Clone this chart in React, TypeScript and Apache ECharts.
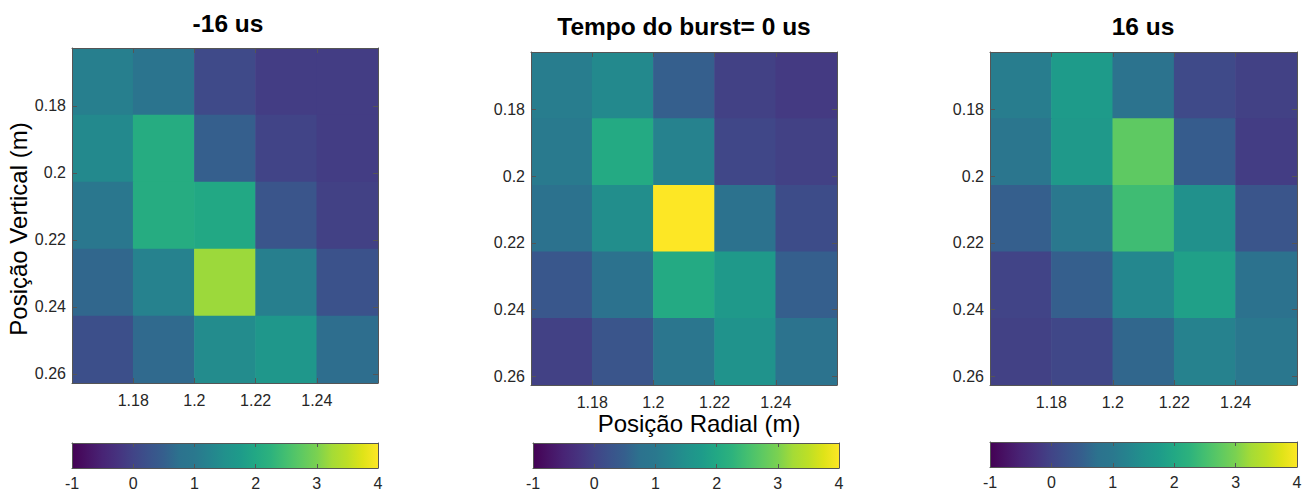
import React, { useEffect, useRef } from "react";
import * as echarts from "echarts";

// ---- data ----
const xCenters = [1.17, 1.19, 1.21, 1.23, 1.25];
const yCenters = [0.1727, 0.1927, 0.2127, 0.2327, 0.2527];
const xTicks = [1.18, 1.2, 1.22, 1.24];
const yTicks = [0.18, 0.2, 0.22, 0.24, 0.26];
const cbTicks = [-1, 0, 1, 2, 3, 4];
const cbRange = [-1, 4];
const titles = ["-16 us", "Tempo do burst= 0 us", "16 us"];

// rows: top (y=0.1727) to bottom; columns: x from 1.17 to 1.25
const valsMinus16 = [
  [1.15, 0.85, 0.1, -0.1, -0.1],
  [1.35, 2.1, 0.5, 0.0, -0.1],
  [0.95, 2.1, 2.0, 0.3, -0.05],
  [0.6, 1.2, 3.2, 1.15, 0.25],
  [0.2, 0.65, 1.4, 1.65, 0.7],
];
const vals0 = [
  [1.1, 1.35, 0.5, -0.05, -0.15],
  [1.05, 2.05, 1.2, 0.05, -0.05],
  [0.75, 1.45, 4.0, 0.75, 0.15],
  [0.35, 0.75, 2.05, 1.7, 0.5],
  [-0.05, 0.3, 0.9, 1.55, 0.8],
];
const vals16 = [
  [1.1, 1.75, 0.8, 0.1, -0.05],
  [0.9, 1.7, 2.75, 0.45, -0.1],
  [0.5, 1.0, 2.45, 1.5, 0.3],
  [0.0, 0.5, 1.3, 1.85, 0.75],
  [-0.05, 0.05, 0.6, 1.2, 0.95],
];
const panels = [valsMinus16, vals0, vals16];

const viridis = [
  "#440154", "#471365", "#482475", "#46337f", "#414487", "#3b528b",
  "#355f8d", "#2c728e", "#2a788e", "#25848e", "#21918c", "#1e9b8a",
  "#22a884", "#2db27d", "#44bf70", "#5ec962", "#7ad151", "#a5db36",
  "#bddf26", "#dfe318", "#fde725",
];

// ---- layout ----
const FONT = "Liberation Sans, Arial, Helvetica, sans-serif";
const plotGrids = [
  { left: 72, top: 48, width: 306, height: 335 },
  { left: 531, top: 52, width: 306, height: 333 },
  { left: 990, top: 52, width: 307, height: 333 },
];
const cbGrids = [
  { left: 72, top: 443, width: 306, height: 25 },
  { left: 533, top: 443, width: 306, height: 25 },
  { left: 990, top: 442, width: 307, height: 25 },
];
const titlePos = [
  [228, 23],
  [684, 26],
  [1143, 26],
];

const LINE = "#555";
const TXT = "#262626";

function buildOption() {
  const grid: any[] = [];
  plotGrids.forEach((g) => grid.push({ ...g, outerBoundsMode: "none", containLabel: false }));
  cbGrids.forEach((g) => grid.push({ ...g, outerBoundsMode: "none", containLabel: false }));

  const fmt2 = (v: number) => String(parseFloat(Number(v).toFixed(2)));
  const xAxis: any[] = [];
  const yAxis: any[] = [];
  const xmin = xCenters[0] - 0.01;
  const xmax = xCenters[xCenters.length - 1] + 0.01;
  const ymin = yCenters[0] - 0.01;
  const ymax = yCenters[yCenters.length - 1] + 0.01;

  const lineStyle = { color: LINE, width: 1 };
  for (let i = 0; i < 3; i++) {
    xAxis.push({
      type: "value", gridIndex: i, min: xmin, max: xmax, position: "bottom", z: 5,
      axisLine: { show: true, onZero: false, lineStyle },
      axisTick: { show: true, inside: true, length: 5, lineStyle, customValues: xTicks },
      axisLabel: { show: true, customValues: xTicks, formatter: fmt2, color: TXT, fontSize: 16, fontFamily: FONT, margin: 9 },
      splitLine: { show: false },
    });
    yAxis.push({
      type: "value", gridIndex: i, min: ymin, max: ymax, inverse: true, position: "left", z: 5,
      axisLine: { show: true, onZero: false, lineStyle },
      axisTick: { show: true, inside: true, length: 5, lineStyle, customValues: yTicks },
      axisLabel: { show: true, customValues: yTicks, formatter: fmt2, color: TXT, fontSize: 16, fontFamily: FONT, margin: 6 },
      splitLine: { show: false },
    });
  }
  for (let i = 0; i < 3; i++) {
    xAxis.push({
      type: "value", gridIndex: i, min: xmin, max: xmax, position: "top", z: 5,
      axisLine: { show: true, onZero: false, lineStyle },
      axisTick: { show: true, inside: true, length: 5, lineStyle, customValues: xTicks },
      axisLabel: { show: false },
      splitLine: { show: false },
    });
    yAxis.push({
      type: "value", gridIndex: i, min: ymin, max: ymax, inverse: true, position: "right", z: 5,
      axisLine: { show: true, onZero: false, lineStyle },
      axisTick: { show: true, inside: true, length: 5, lineStyle, customValues: yTicks },
      axisLabel: { show: false },
      splitLine: { show: false },
    });
  }
  for (let i = 0; i < 3; i++) {
    xAxis.push({
      type: "value", gridIndex: 3 + i, min: cbRange[0], max: cbRange[1], interval: 1, position: "bottom", z: 5,
      axisLine: { show: true, onZero: false, lineStyle },
      axisTick: { show: true, inside: true, length: 4, lineStyle, customValues: cbTicks },
      axisLabel: { show: true, customValues: cbTicks, color: TXT, fontSize: 16, fontFamily: FONT, margin: 7 },
      splitLine: { show: false },
    });
    yAxis.push({
      type: "value", gridIndex: 3 + i, min: 0, max: 1, position: "left", z: 5,
      axisLine: { show: true, onZero: false, lineStyle },
      axisTick: { show: false }, axisLabel: { show: false }, splitLine: { show: false },
    });
  }
  for (let i = 0; i < 3; i++) {
    xAxis.push({
      type: "value", gridIndex: 3 + i, min: cbRange[0], max: cbRange[1], interval: 1, position: "top", z: 5,
      axisLine: { show: true, onZero: false, lineStyle },
      axisTick: { show: true, inside: true, length: 4, lineStyle, customValues: cbTicks },
      axisLabel: { show: false }, splitLine: { show: false },
    });
    yAxis.push({
      type: "value", gridIndex: 3 + i, min: 0, max: 1, position: "right", z: 5,
      axisLine: { show: true, onZero: false, lineStyle },
      axisTick: { show: false }, axisLabel: { show: false }, splitLine: { show: false },
    });
  }

  const series: any[] = [];
  panels.forEach((vals, i) => {
    const data: number[][] = [];
    vals.forEach((row, r) => row.forEach((v, c) => data.push([xCenters[c], yCenters[r], v])));
    series.push({
      type: "custom", xAxisIndex: i, yAxisIndex: i, z: 1, clip: true,
      encode: { x: 0, y: 1 },
      data,
      renderItem: (params: any, api: any) => {
        const x = api.value(0), y = api.value(1);
        const p0 = api.coord([x - 0.01, y - 0.01]);
        const p1 = api.coord([x + 0.01, y + 0.01]);
        const x0 = Math.min(p0[0], p1[0]), y0 = Math.min(p0[1], p1[1]);
        return {
          type: "rect",
          shape: { x: x0 - 0.3, y: y0 - 0.3, width: Math.abs(p1[0] - p0[0]) + 0.6, height: Math.abs(p1[1] - p0[1]) + 0.6 },
          style: { fill: api.visual("color"), stroke: null },
        };
      },
    });
  });
  const stops = viridis.map((c, k) => ({ offset: k / (viridis.length - 1), color: c }));
  for (let i = 0; i < 3; i++) {
    series.push({
      type: "custom", xAxisIndex: 6 + i, yAxisIndex: 6 + i, z: 1,
      data: [[cbRange[0], cbRange[1]]],
      encode: { x: [0, 1] },
      renderItem: (params: any, api: any) => {
        const p0 = api.coord([api.value(0), 1]);
        const p1 = api.coord([api.value(1), 0]);
        return {
          type: "rect",
          shape: { x: p0[0], y: p0[1], width: p1[0] - p0[0], height: p1[1] - p0[1] },
          style: { fill: new echarts.graphic.LinearGradient(0, 0, 1, 0, stops) },
        };
      },
    });
  }

  const graphic: any[] = [];
  titles.forEach((t, i) => {
    graphic.push({
      type: "text", x: titlePos[i][0], y: titlePos[i][1], z: 10,
      style: { text: t, align: "center", verticalAlign: "middle", fill: "#000", font: `bold 24.5px ${FONT}` },
    });
  });
  graphic.push({
    type: "text", x: 699, y: 423, z: 10,
    style: { text: "Posição Radial (m)", align: "center", verticalAlign: "middle", fill: "#000", font: `24px ${FONT}` },
  });
  graphic.push({
    type: "text", x: 18, y: 229, rotation: Math.PI / 2, z: 10,
    style: { text: "Posição Vertical (m)", align: "center", verticalAlign: "middle", fill: "#000", font: `24px ${FONT}` },
  });

  return {
    animation: false,
    backgroundColor: "#ffffff",
    grid, xAxis, yAxis, series, graphic,
    visualMap: [
      {
        type: "continuous", show: false, min: cbRange[0], max: cbRange[1], dimension: 2,
        seriesIndex: [0, 1, 2], inRange: { color: viridis },
      },
    ],
  };
}

export default function App() {
  const ref = useRef<HTMLDivElement>(null);
  useEffect(() => {
    if (!ref.current) return;
    const chart = echarts.init(ref.current, null, { renderer: "svg" });
    chart.setOption(buildOption() as any);
    return () => chart.dispose();
  }, []);
  return (
    <div
      ref={ref}
      style={{ position: "absolute", left: 0, top: 0, width: 1308, height: 490, background: "#fff" }}
    />
  );
}
